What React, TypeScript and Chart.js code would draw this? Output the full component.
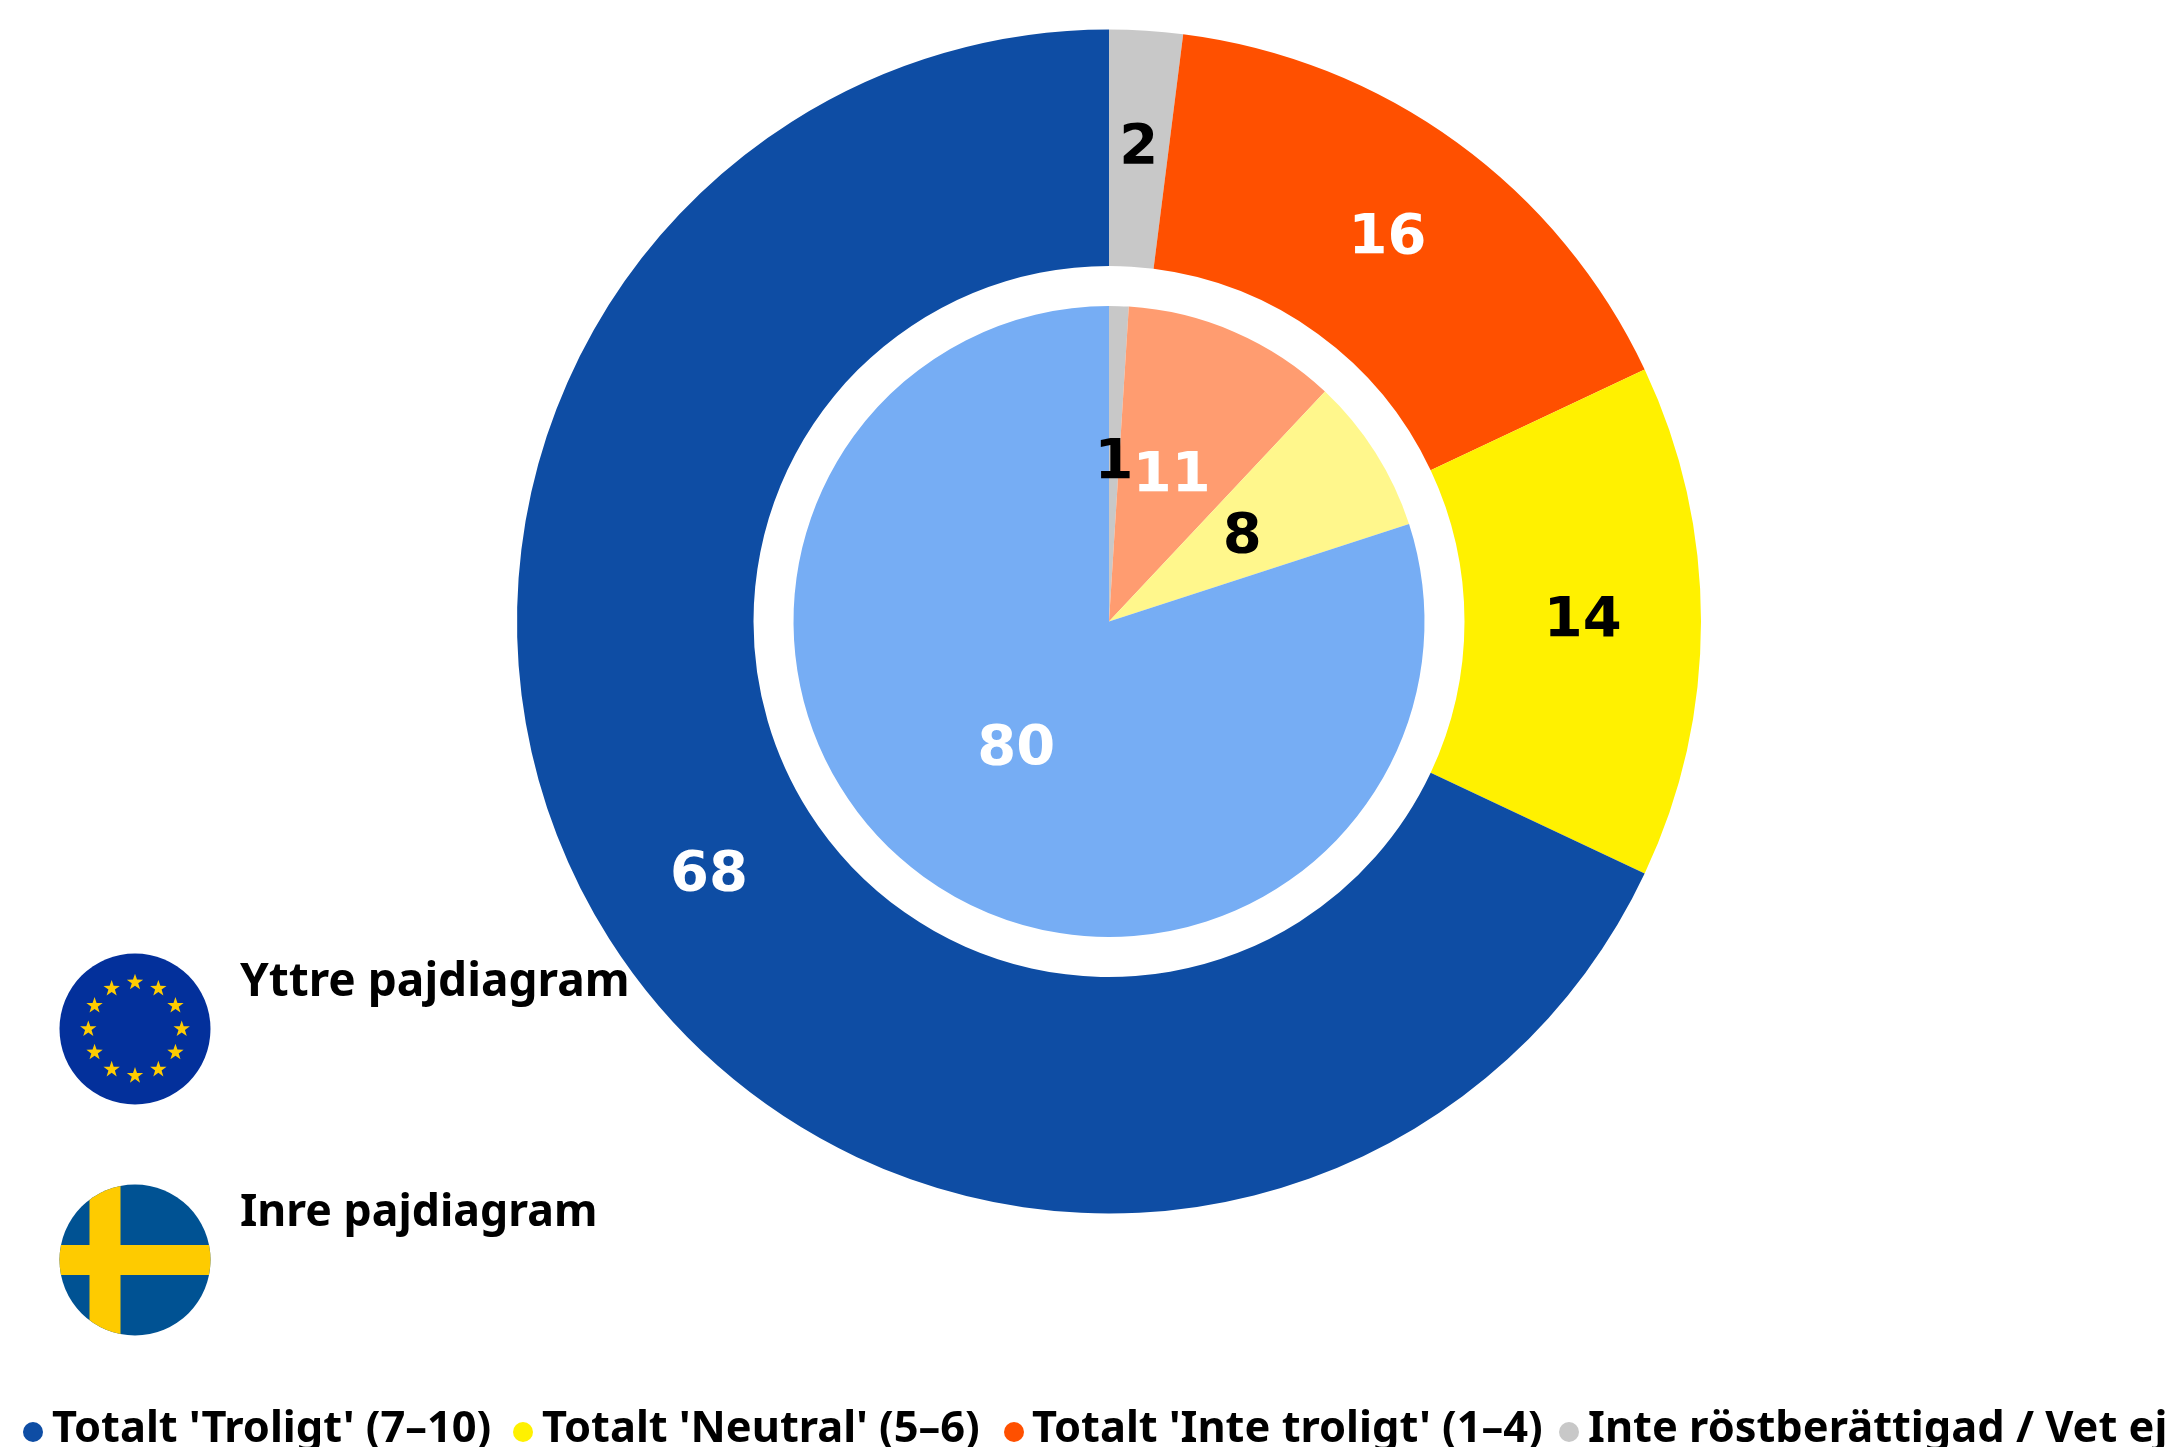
import React, { useEffect, useRef } from "react";
import { Chart, registerables } from "chart.js";

Chart.register(...registerables);

const categories = ["Inte röstberättigad / Vet ej", "Totalt 'Inte troligt' (1–4)", "Totalt 'Neutral' (5–6)", "Totalt 'Troligt' (7–10)"];
const outerValues = [2, 16, 14, 68];
const innerValues = [1, 11, 8, 80];
const outerColors = ["#C8C8C8", "#FF5000", "#FFF100", "#0E4DA4"];
const innerColors = ["#C8C8C8", "#FF9C70", "#FFF78C", "#76ADF4"];
const labelColors = ["#000000", "#FFFFFF", "#000000", "#FFFFFF"];

const legendLabels = ["Totalt 'Troligt' (7–10)", "Totalt 'Neutral' (5–6)", "Totalt 'Inte troligt' (1–4)", "Inte röstberättigad / Vet ej"];
const legendColors = ["#0E4DA4", "#FFF100", "#FF5000", "#C8C8C8"];
const legendDotX = [33, 523, 1014, 1569];
const legendTextX = [52, 542, 1032, 1588];
const scopeLabels = ["Yttre pajdiagram", "Inre pajdiagram"];
const scopeFontSizes = [46, 44.6];
const scopeBaselines = [996, 1226];

const FONT = '"Noto Sans"';
const DIGIT_FONT = '"DejaVu Sans"';
const W = 2180;
const H = 1447;
const CX = 1109;
const CY = 621.5;
const R_OUT = 592;
const R_GAP = 355.5;
const R_IN = 315.5;

const valueLabels = {
  id: "valueLabels",
  afterDatasetsDraw(chart: any) {
    const { ctx } = chart;
    const meta = chart.getDatasetMeta(0);
    const values = chart.data.datasets[0].data;
    ctx.save();
    ctx.font = `700 56px ${DIGIT_FONT}`;
    ctx.textAlign = "center";
    ctx.textBaseline = "middle";
    meta.data.forEach((arc: any, i: number) => {
      const p = arc.getCenterPoint();
      ctx.fillStyle = labelColors[i];
      ctx.fillText(String(values[i]), p.x, p.y);
    });
    ctx.restore();
  },
};

const legendPlugin = {
  id: "bottomLegend",
  afterDraw(chart: any) {
    const { ctx } = chart;
    ctx.save();
    ctx.font = `700 43.4px ${FONT}`;
    ctx.textBaseline = "alphabetic";
    ctx.textAlign = "left";
    legendLabels.forEach((label, i) => {
      ctx.fillStyle = legendColors[i];
      ctx.beginPath();
      ctx.arc(legendDotX[i], 1432, 10, 0, Math.PI * 2);
      ctx.fill();
      ctx.fillStyle = "#000000";
      ctx.fillText(label, legendTextX[i], 1442);
    });
    scopeLabels.forEach((label, i) => {
      ctx.font = `700 ${scopeFontSizes[i]}px ${FONT}`;
      ctx.fillText(label, 240, scopeBaselines[i]);
    });
    ctx.restore();
  },
};

function EuFlag() {
  const stars = Array.from({ length: 12 }, (_, i) => i);
  const star = (cx: number, cy: number) => {
    const pts: string[] = [];
    for (let k = 0; k < 10; k++) {
      const r = k % 2 === 0 ? 8.6 : 3.4;
      const a = (-90 + k * 36) * (Math.PI / 180);
      pts.push(`${cx + r * Math.cos(a)},${cy + r * Math.sin(a)}`);
    }
    return pts.join(" ");
  };
  return (
    <svg width={152} height={152} viewBox="0 0 152 152" style={{ position: "absolute", left: 58.6, top: 953 }}>
      <circle cx={76} cy={76} r={75.5} fill="#03309B" />
      {stars.map((i) => {
        const a = (i * 30 * Math.PI) / 180;
        return <polygon key={i} points={star(76 + 46.7 * Math.sin(a), 76 - 46.7 * Math.cos(a))} fill="#FFCC00" />;
      })}
    </svg>
  );
}

function SeFlag() {
  return (
    <svg width={152} height={152} viewBox="0 0 152 152" style={{ position: "absolute", left: 58.6, top: 1183.5 }}>
      <defs>
        <clipPath id="seClip">
          <circle cx={76} cy={76} r={75.5} />
        </clipPath>
      </defs>
      <g clipPath="url(#seClip)">
        <rect width={152} height={152} fill="#005293" />
        <rect x={30.5} width={31} height={152} fill="#FECB00" />
        <rect y={61} width={152} height={30} fill="#FECB00" />
      </g>
    </svg>
  );
}

export default function App() {
  const outerRef = useRef<HTMLCanvasElement>(null);
  const innerRef = useRef<HTMLCanvasElement>(null);

  useEffect(() => {
    const base = {
      responsive: false,
      maintainAspectRatio: false,
      animation: false as const,
      plugins: { legend: { display: false }, tooltip: { enabled: false } },
    };
    const outer = new Chart(outerRef.current!, {
      type: "doughnut",
      data: {
        labels: categories,
        datasets: [{ data: outerValues, backgroundColor: outerColors, borderWidth: 0 }],
      },
      options: {
        ...base,
        cutout: `${(R_GAP / R_OUT) * 100}%`,
        layout: { padding: { left: CX - R_OUT, right: W - CX - R_OUT, top: CY - R_OUT, bottom: H - CY - R_OUT } },
      },
      plugins: [valueLabels, legendPlugin],
    } as any);
    const inner = new Chart(innerRef.current!, {
      type: "pie",
      data: {
        labels: categories,
        datasets: [{ data: innerValues, backgroundColor: innerColors, borderWidth: 0 }],
      },
      options: {
        ...base,
        layout: { padding: { left: CX - R_IN, right: W - CX - R_IN, top: CY - R_IN, bottom: H - CY - R_IN } },
      },
      plugins: [valueLabels],
    } as any);
    return () => {
      outer.destroy();
      inner.destroy();
    };
  }, []);

  const canvasStyle: React.CSSProperties = { position: "absolute", left: 0, top: 0, display: "block" };
  return (
    <div style={{ position: "absolute", left: 0, top: 0, width: W, height: H, overflow: "hidden", background: "#fff" }}>
      <canvas ref={outerRef} width={W} height={H} style={canvasStyle} />
      <canvas ref={innerRef} width={W} height={H} style={canvasStyle} />
      <EuFlag />
      <SeFlag />
    </div>
  );
}
